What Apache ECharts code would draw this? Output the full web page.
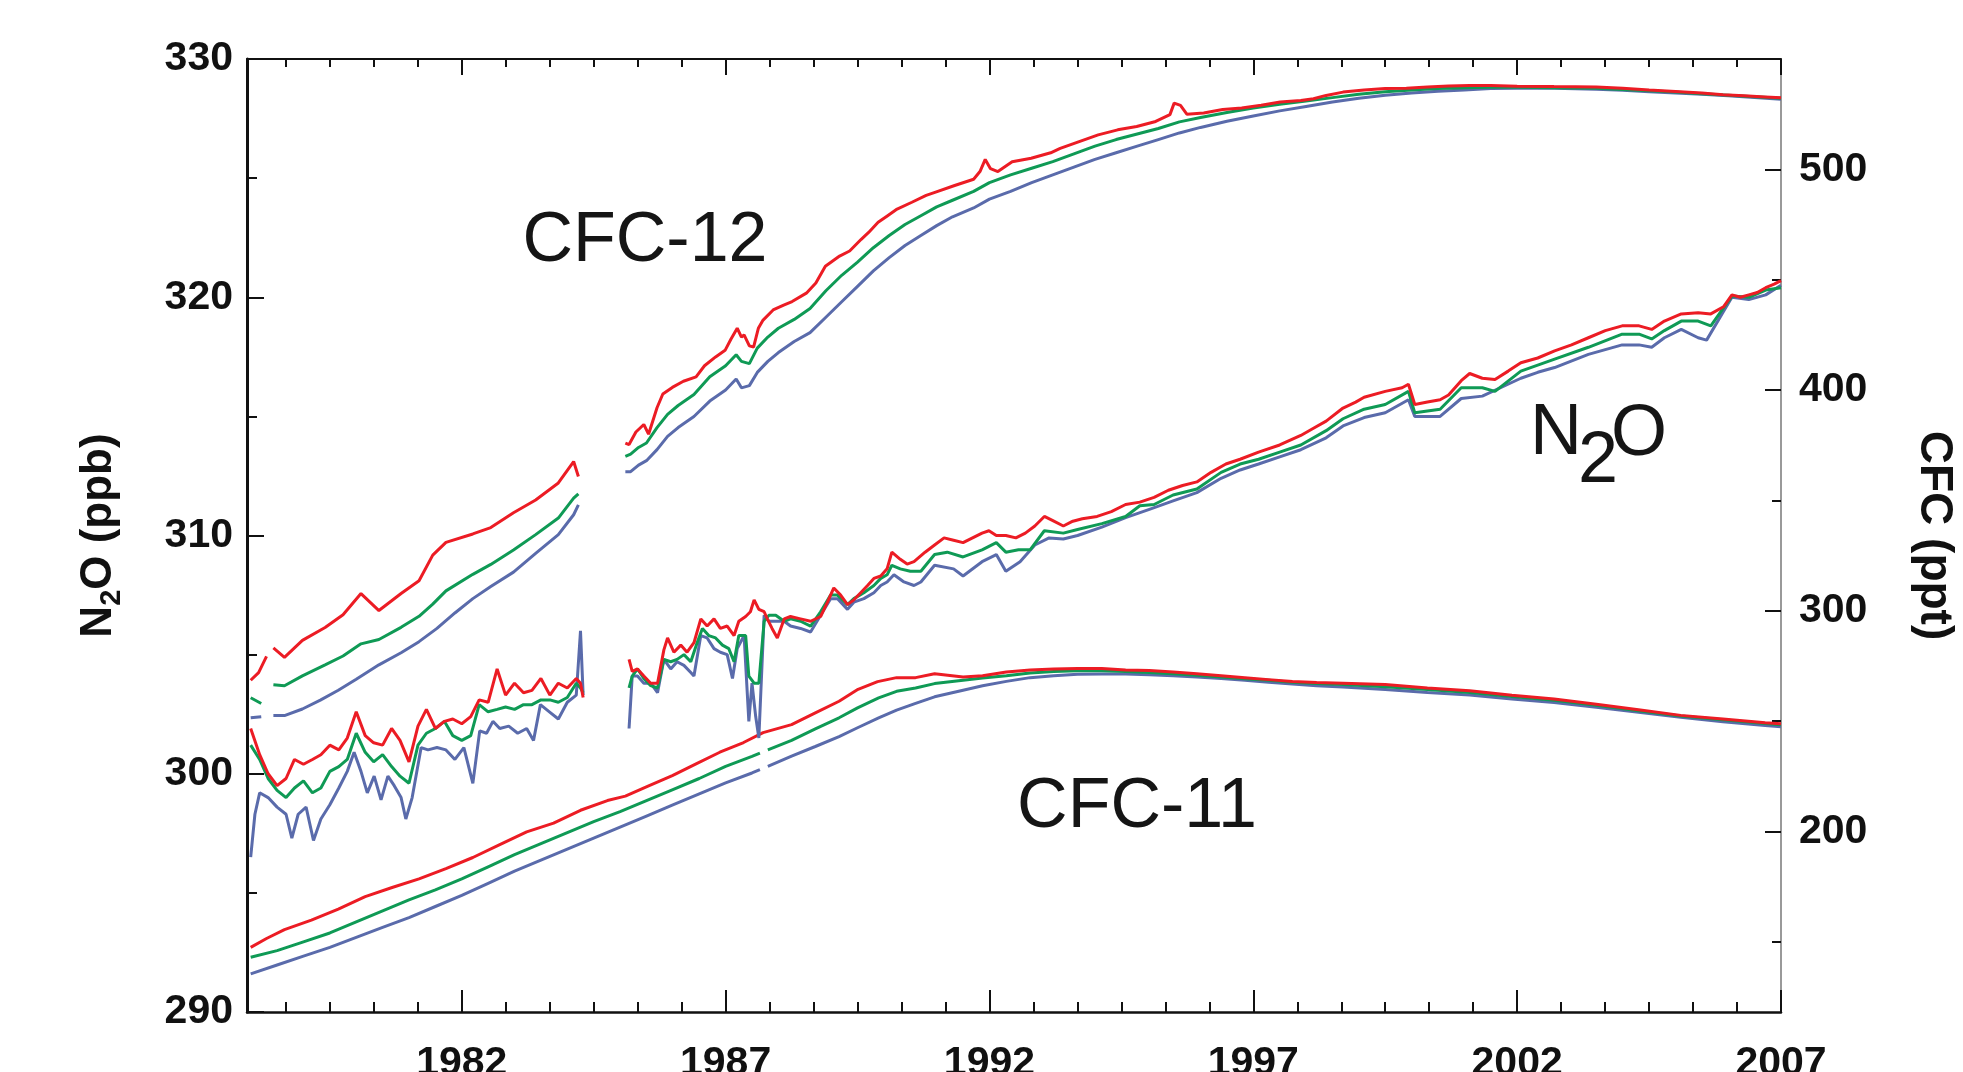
<!DOCTYPE html>
<html><head><meta charset="utf-8">
<script src="https://cdn.jsdelivr.net/npm/echarts@6/dist/echarts.min.js"></script>
<style>html,body{margin:0;padding:0;background:#fff}#c{width:1963px;height:1072px}</style>
</head><body><div id="c"></div>
<script>
// ---------- tick labels ----------
const yearMajor = [1982, 1987, 1992, 1997, 2002, 2007];
const pptMajor = [200, 300, 400, 500];
const pptMinor = [150, 250, 350, 450, 550];

// ---------- N2O (ppb, left axis) ----------
const n2oRedA = [[1978.0,301.9],[1978.17,300.8],[1978.33,300.0],[1978.5,299.5],[1978.67,299.8],[1978.83,300.6],[1979.0,300.4],[1979.17,300.6],[1979.33,300.8],[1979.5,301.2],[1979.67,301.0],[1979.83,301.5],[1980.0,302.6],[1980.17,301.6],[1980.33,301.3],[1980.5,301.2],[1980.67,301.9],[1980.83,301.4],[1981.0,300.5],[1981.17,302.0],[1981.33,302.7],[1981.5,301.9],[1981.67,302.2],[1981.83,302.3],[1982.0,302.1],[1982.17,302.4],[1982.33,303.1],[1982.5,303.0],[1982.67,304.4],[1982.83,303.3],[1983.0,303.8],[1983.17,303.4],[1983.33,303.5],[1983.5,304.0],[1983.67,303.3],[1983.83,303.8],[1984.0,303.6],[1984.17,304.0],[1984.25,303.8],[1984.3,303.2]];
const n2oGreenA = [[1978.0,301.2],[1978.17,300.6],[1978.33,299.8],[1978.5,299.3],[1978.67,299.0],[1978.83,299.4],[1979.0,299.7],[1979.17,299.2],[1979.33,299.4],[1979.5,300.1],[1979.67,300.3],[1979.83,300.6],[1980.0,301.7],[1980.17,300.9],[1980.33,300.5],[1980.5,300.8],[1980.67,300.3],[1980.83,299.9],[1981.0,299.6],[1981.17,301.2],[1981.33,301.7],[1981.5,301.9],[1981.67,302.2],[1981.83,301.6],[1982.0,301.4],[1982.17,301.6],[1982.33,302.9],[1982.5,302.6],[1982.67,302.7],[1982.83,302.8],[1983.0,302.7],[1983.17,302.9],[1983.33,302.9],[1983.5,303.1],[1983.67,303.1],[1983.83,303.0],[1984.0,303.2],[1984.17,303.8],[1984.25,303.6],[1984.3,303.4]];
const n2oBlueA = [[1978.0,296.5],[1978.08,298.3],[1978.17,299.2],[1978.33,299.0],[1978.5,298.6],[1978.67,298.3],[1978.78,297.3],[1978.9,298.3],[1979.05,298.6],[1979.19,297.2],[1979.33,298.1],[1979.5,298.7],[1979.67,299.4],[1979.83,300.1],[1979.96,300.9],[1980.09,300.1],[1980.21,299.2],[1980.34,299.9],[1980.47,298.9],[1980.6,299.9],[1980.72,299.5],[1980.85,299.0],[1980.94,298.1],[1981.06,299.0],[1981.23,301.1],[1981.36,301.0],[1981.53,301.1],[1981.7,301.0],[1981.87,300.6],[1982.04,301.1],[1982.21,299.6],[1982.34,301.8],[1982.47,301.7],[1982.59,302.2],[1982.72,301.9],[1982.89,302.0],[1983.06,301.7],[1983.23,301.9],[1983.36,301.4],[1983.49,302.9],[1983.66,302.6],[1983.83,302.3],[1984.0,303.0],[1984.17,303.3],[1984.25,306.0],[1984.3,303.3]];

const n2oRedB = [[1985.17,304.8],[1985.23,304.3],[1985.33,304.4],[1985.45,304.1],[1985.58,303.8],[1985.71,303.8],[1985.83,305.2],[1985.9,305.7],[1986.02,305.1],[1986.15,305.4],[1986.27,305.1],[1986.4,305.5],[1986.53,306.5],[1986.65,306.2],[1986.78,306.5],[1986.9,306.1],[1987.03,306.2],[1987.16,305.8],[1987.25,306.4],[1987.38,306.6],[1987.47,306.8],[1987.54,307.3],[1987.63,306.9],[1987.73,306.8],[1987.79,306.5],[1987.88,306.1],[1987.98,305.7],[1988.11,306.5],[1988.23,306.6],[1988.42,306.5],[1988.61,306.4],[1988.8,306.6],[1988.93,307.2],[1989.05,307.8],[1989.18,307.5],[1989.31,307.1],[1989.43,307.3],[1989.56,307.6],[1989.69,307.9],[1989.81,308.2],[1989.94,308.3],[1990.06,308.6],[1990.15,309.3],[1990.31,309.0],[1990.44,308.8],[1990.57,308.9],[1990.78,309.3],[1990.96,309.6],[1991.14,309.9],[1991.32,309.8],[1991.5,309.7],[1991.68,309.9],[1991.86,310.1],[1991.99,310.2],[1992.13,310.0],[1992.31,310.0],[1992.5,309.9],[1992.68,310.1],[1992.86,310.4],[1993.04,310.8],[1993.22,310.6],[1993.4,310.4],[1993.58,310.6],[1993.76,310.7],[1994.04,310.8],[1994.31,311.0],[1994.58,311.3],[1994.85,311.4],[1995.12,311.6],[1995.39,311.9],[1995.66,312.1],[1995.93,312.25],[1996.2,312.65],[1996.48,313.0],[1996.75,313.2],[1997.1,313.5],[1997.5,313.8],[1997.9,314.2],[1998.14,314.5],[1998.38,314.8],[1998.7,315.35],[1998.94,315.6],[1999.1,315.8],[1999.5,316.05],[1999.82,316.2],[1999.94,316.35],[2000.06,315.5],[2000.3,315.6],[2000.54,315.7],[2000.7,315.9],[2000.94,316.5],[2001.1,316.8],[2001.34,316.6],[2001.58,316.55],[2001.83,316.9],[2002.07,317.25],[2002.39,317.45],[2002.71,317.75],[2003.03,318.0],[2003.35,318.3],[2003.67,318.6],[2003.99,318.8],[2004.31,318.8],[2004.55,318.65],[2004.79,319.0],[2005.11,319.3],[2005.43,319.35],[2005.67,319.3],[2005.91,319.6],[2006.07,320.1],[2006.23,320.0],[2006.39,320.1],[2006.55,320.2],[2006.71,320.4],[2006.87,320.55],[2007.0,320.7]];
const n2oGreenB = [[1985.17,303.6],[1985.23,304.1],[1985.33,304.4],[1985.45,304.0],[1985.58,303.7],[1985.71,303.6],[1985.83,304.8],[1985.96,304.7],[1986.08,304.8],[1986.21,305.0],[1986.34,304.7],[1986.46,305.5],[1986.56,306.1],[1986.68,305.8],[1986.81,305.7],[1986.94,305.4],[1987.06,305.25],[1987.16,304.7],[1987.25,305.8],[1987.38,305.8],[1987.44,304.1],[1987.54,303.8],[1987.63,303.8],[1987.73,306.4],[1987.82,306.65],[1987.95,306.65],[1988.11,306.4],[1988.23,306.5],[1988.42,306.4],[1988.61,306.2],[1988.8,306.8],[1988.99,307.5],[1989.12,307.5],[1989.31,307.1],[1989.43,307.35],[1989.62,307.6],[1989.81,307.9],[1989.94,308.2],[1990.06,308.35],[1990.15,308.75],[1990.31,308.6],[1990.5,308.5],[1990.7,308.5],[1990.96,309.2],[1991.2,309.3],[1991.5,309.1],[1991.86,309.4],[1992.13,309.7],[1992.31,309.3],[1992.55,309.4],[1992.77,309.4],[1993.04,310.2],[1993.4,310.1],[1993.67,310.25],[1994.13,310.5],[1994.58,310.8],[1994.85,311.25],[1995.12,311.3],[1995.48,311.7],[1995.93,311.95],[1996.39,312.65],[1996.75,313.0],[1997.1,313.2],[1997.5,313.5],[1997.9,313.8],[1998.38,314.4],[1998.7,314.9],[1999.1,315.3],[1999.5,315.5],[1999.94,316.05],[2000.06,315.15],[2000.54,315.3],[2000.94,316.2],[2001.34,316.2],[2001.58,316.05],[2002.07,316.9],[2002.71,317.4],[2003.35,317.9],[2003.99,318.45],[2004.31,318.45],[2004.55,318.25],[2004.79,318.6],[2005.11,319.0],[2005.43,319.0],[2005.67,318.8],[2005.91,319.55],[2006.07,320.05],[2006.39,320.0],[2006.71,320.3],[2007.0,320.4]];
const n2oBlueB = [[1985.17,301.9],[1985.23,304.1],[1985.33,304.1],[1985.45,303.8],[1985.58,303.8],[1985.71,303.4],[1985.83,304.8],[1985.96,304.4],[1986.08,304.7],[1986.21,304.55],[1986.34,304.25],[1986.4,304.1],[1986.53,305.8],[1986.65,305.7],[1986.78,305.25],[1986.9,305.1],[1987.03,305.0],[1987.13,304.0],[1987.22,305.25],[1987.35,305.8],[1987.44,302.2],[1987.5,303.8],[1987.57,302.4],[1987.63,301.5],[1987.73,306.65],[1987.82,306.4],[1987.95,306.4],[1988.11,306.4],[1988.23,306.2],[1988.42,306.1],[1988.61,305.95],[1988.8,306.65],[1988.99,307.35],[1989.12,307.35],[1989.31,306.9],[1989.43,307.2],[1989.62,307.35],[1989.81,307.6],[1989.94,307.9],[1990.06,308.05],[1990.19,308.35],[1990.38,308.05],[1990.57,307.9],[1990.7,308.05],[1990.96,308.75],[1991.32,308.6],[1991.5,308.3],[1991.86,308.9],[1992.13,309.2],[1992.31,308.5],[1992.58,308.9],[1992.86,309.6],[1993.13,309.9],[1993.4,309.85],[1993.67,310.0],[1994.13,310.35],[1994.58,310.75],[1995.03,311.1],[1995.48,311.45],[1995.93,311.8],[1996.39,312.4],[1996.75,312.75],[1997.1,313.0],[1997.5,313.3],[1997.9,313.6],[1998.38,314.1],[1998.7,314.6],[1999.1,314.95],[1999.5,315.15],[1999.94,315.7],[2000.06,315.0],[2000.54,315.0],[2000.94,315.75],[2001.34,315.85],[2002.07,316.6],[2002.39,316.85],[2002.71,317.05],[2003.35,317.6],[2003.99,318.0],[2004.31,318.0],[2004.55,317.9],[2004.79,318.3],[2005.11,318.65],[2005.43,318.3],[2005.59,318.2],[2005.91,319.4],[2006.07,320.0],[2006.39,319.9],[2006.71,320.1],[2007.0,320.5]];

// ---------- CFC-12 (ppt, right axis) ----------
const cfc12RedA0 = [[1978.0,268.5],[1978.15,272.0],[1978.3,279.3]];
const cfc12RedA = [[1978.43,283.2],[1978.64,278.9],[1978.98,286.6],[1979.41,292.4],[1979.75,298.2],[1980.09,307.8],[1980.43,300.1],[1980.85,307.8],[1981.19,313.6],[1981.45,325.2],[1981.7,331.0],[1982.21,334.8],[1982.55,337.7],[1982.98,344.4],[1983.4,350.2],[1983.83,357.9],[1984.12,367.6],[1984.21,360.8]];
const cfc12GreenA0 = [[1978.0,260.6],[1978.2,258.0]];
const cfc12GreenA = [[1978.43,266.5],[1978.64,266.0],[1978.98,270.5],[1979.41,275.5],[1979.75,279.5],[1980.09,285.0],[1980.43,287.0],[1980.85,292.5],[1981.19,297.5],[1981.45,303.0],[1981.7,309.0],[1982.21,316.5],[1982.55,321.0],[1982.98,327.5],[1983.4,334.5],[1983.83,342.0],[1984.12,351.0],[1984.21,353.0]];
const cfc12BlueA0 = [[1978.0,251.5],[1978.2,252.0]];
const cfc12BlueA = [[1978.43,252.5],[1978.64,252.5],[1978.98,255.5],[1979.32,259.5],[1979.66,264.0],[1980.0,269.0],[1980.43,275.5],[1980.85,281.0],[1981.19,286.0],[1981.53,292.0],[1981.87,299.0],[1982.21,305.5],[1982.55,311.0],[1982.98,317.5],[1983.4,326.0],[1983.83,334.5],[1984.12,343.5],[1984.21,348.0]];
const cfc12RedB = [[1985.1,376],[1985.17,375.3],[1985.3,381],[1985.45,384.4],[1985.54,380],[1985.7,392],[1985.81,398.2],[1985.99,401.2],[1986.2,404],[1986.44,406],[1986.6,411],[1986.81,415],[1986.99,418],[1987.1,423],[1987.22,428],[1987.3,424],[1987.35,425],[1987.45,420],[1987.53,419.5],[1987.62,428],[1987.71,431.7],[1987.9,436.3],[1988.1,438.5],[1988.26,440.1],[1988.53,443.9],[1988.71,448.5],[1988.89,456.1],[1989.16,460.7],[1989.35,463],[1989.57,468.3],[1989.71,471.4],[1989.89,476],[1990.07,479],[1990.25,482],[1990.53,485.1],[1990.8,488.2],[1990.98,489.7],[1991.34,492.7],[1991.7,495.5],[1991.82,499],[1991.92,504.5],[1992.02,500.3],[1992.16,499],[1992.43,503.4],[1992.79,505],[1993.16,507.5],[1993.34,509.5],[1993.7,512.6],[1994.06,515.6],[1994.43,517.9],[1994.79,519.4],[1995.15,521.7],[1995.42,524.8],[1995.5,530],[1995.62,529],[1995.74,525],[1996.06,525.5],[1996.42,527.1],[1996.78,527.8],[1997.15,529],[1997.51,530.5],[1997.9,531.2],[1998.14,532],[1998.38,533.5],[1998.7,535],[1999.1,536],[1999.5,536.6],[1999.9,536.8],[2000.3,537.3],[2000.7,537.8],[2001.1,538],[2001.5,538],[2002.0,537.7],[2002.7,537.5],[2003.5,537.3],[2004.0,536.8],[2004.5,536],[2005.0,535.3],[2005.5,534.6],[2005.9,533.8],[2006.3,533.3],[2006.7,532.8],[2007.0,532.4]];
const cfc12GreenB = [[1985.1,370],[1985.2,371],[1985.35,374],[1985.5,376],[1985.7,383],[1985.9,389],[1986.1,393],[1986.4,398],[1986.7,406],[1987.0,411],[1987.2,416],[1987.3,413],[1987.45,412],[1987.6,419],[1987.8,424],[1988.0,428],[1988.3,432],[1988.6,437],[1988.9,445],[1989.2,452],[1989.5,458],[1989.8,464.5],[1990.1,470],[1990.4,475],[1990.7,479],[1991.0,483],[1991.3,486],[1991.7,490],[1992.0,494],[1992.4,497.5],[1992.8,500.5],[1993.2,503.5],[1993.6,507],[1994.0,510.5],[1994.4,513.5],[1994.8,516],[1995.2,518.5],[1995.6,521.5],[1996.0,523.5],[1996.5,525.8],[1997.0,527.8],[1997.5,529.5],[1998.0,531],[1998.5,532.5],[1999.0,534],[1999.5,535.2],[2000.0,536],[2000.5,536.6],[2001.0,537],[2001.5,537.2],[2002.0,537.2],[2002.7,537],[2003.5,536.7],[2004.0,536.2],[2004.5,535.6],[2005.0,535],[2005.5,534.3],[2006.0,533.6],[2006.5,532.9],[2007.0,532.2]];
const cfc12BlueB = [[1985.1,363],[1985.2,363],[1985.35,366],[1985.5,368],[1985.7,373],[1985.9,379],[1986.1,383],[1986.4,388],[1986.7,395],[1987.0,400],[1987.2,405],[1987.3,401],[1987.45,402],[1987.6,408],[1987.8,413],[1988.0,417],[1988.3,422],[1988.6,426],[1988.9,433],[1989.2,440],[1989.5,447],[1989.8,454],[1990.1,460],[1990.4,465.5],[1990.7,470],[1991.0,474.5],[1991.3,478.5],[1991.7,482.5],[1992.0,486.5],[1992.4,490],[1992.8,494],[1993.2,497.5],[1993.6,501],[1994.0,504.5],[1994.4,507.5],[1994.8,510.5],[1995.2,513.5],[1995.6,516.5],[1996.0,519],[1996.5,521.8],[1997.0,524.2],[1997.5,526.5],[1998.0,528.5],[1998.5,530.5],[1999.0,532.2],[1999.5,533.6],[2000.0,534.6],[2000.5,535.4],[2001.0,536],[2001.5,536.6],[2002.0,536.8],[2002.7,536.7],[2003.5,536.3],[2004.0,535.8],[2004.5,535.2],[2005.0,534.6],[2005.5,534],[2006.0,533.3],[2006.5,532.5],[2007.0,531.8]];

// ---------- CFC-11 (ppt, right axis) ----------
const cfc11Red = [[1978.0,147.5],[1978.3,151.5],[1978.64,155.5],[1979.15,159.8],[1979.66,164.8],[1980.17,170.5],[1980.68,174.6],[1981.19,178.5],[1981.7,183.2],[1982.21,188.2],[1982.72,194.0],[1983.23,199.8],[1983.74,203.8],[1984.25,209.6],[1984.76,214.0],[1985.1,216.0],[1985.53,220.5],[1985.99,225.3],[1986.44,230.6],[1986.89,235.9],[1987.34,240.3],[1987.71,244.8],[1988.25,248.4],[1988.7,253.7],[1989.15,259.0],[1989.51,264.4],[1989.88,267.9],[1990.24,269.7],[1990.6,269.7],[1990.96,271.5],[1991.5,270.0],[1991.87,270.6],[1992.32,272.3],[1992.77,273.2],[1993.22,273.6],[1993.67,273.8],[1994.13,273.8],[1994.58,273.2],[1995.03,272.9],[1995.48,272.3],[1995.93,271.5],[1996.39,270.6],[1996.84,269.7],[1997.29,268.8],[1997.74,267.9],[1998.2,267.5],[1998.7,267.2],[1999.5,266.6],[2000.3,265.0],[2001.1,263.8],[2001.9,261.7],[2002.7,260.0],[2003.5,257.6],[2004.3,255.1],[2005.1,252.6],[2005.9,251.0],[2006.7,249.3],[2007.0,248.8]];
const cfc11GreenA = [[1978.0,143],[1978.5,146],[1979.0,150],[1979.5,154],[1980.0,159],[1980.5,164],[1981.0,169],[1981.5,173.5],[1982.0,178.5],[1982.5,184],[1983.0,189.5],[1983.5,194.5],[1984.0,199.5],[1984.5,204.5],[1985.0,209],[1985.5,214],[1986.0,219],[1986.5,224],[1987.0,229.5],[1987.5,234],[1987.65,235.5]];
const cfc11GreenB = [[1987.8,237],[1988.25,241.3],[1988.7,246.5],[1989.15,251.5],[1989.5,256],[1989.9,260.5],[1990.24,263.5],[1990.6,265],[1990.96,267],[1991.5,268.5],[1991.87,269.5],[1992.32,270.6],[1992.77,271.8],[1993.22,272.5],[1993.67,272.8],[1994.13,272.8],[1994.58,272.5],[1995.03,272],[1995.48,271.5],[1995.93,270.8],[1996.39,270],[1996.84,269.2],[1997.29,268.5],[1997.74,267.6],[1998.2,267],[1998.7,266.6],[1999.5,265.6],[2000.3,264.3],[2001.1,263],[2001.9,261.2],[2002.7,259.5],[2003.5,257.2],[2004.3,254.7],[2005.1,252.3],[2005.9,250.6],[2006.7,248.9],[2007.0,248.3]];
const cfc11BlueA = [[1978.0,135.5],[1978.5,139.5],[1979.0,143.5],[1979.5,147.5],[1980.0,152],[1980.5,156.5],[1981.0,161],[1981.5,166],[1982.0,171],[1982.5,176.5],[1983.0,182],[1983.5,187],[1984.0,192],[1984.5,197],[1985.0,202],[1985.5,207],[1986.0,212],[1986.5,217],[1987.0,222],[1987.5,226.5],[1987.65,228]];
const cfc11BlueB = [[1987.8,229.5],[1988.25,234.1],[1988.7,238.5],[1989.15,243],[1989.5,247],[1989.9,251.5],[1990.24,255],[1990.6,258],[1990.96,261],[1991.5,264],[1991.87,266],[1992.32,268],[1992.77,269.7],[1993.22,270.6],[1993.67,271.2],[1994.13,271.4],[1994.58,271.3],[1995.03,271],[1995.48,270.5],[1995.93,270],[1996.39,269.3],[1996.84,268.5],[1997.29,267.6],[1997.74,266.8],[1998.2,266],[1998.7,265.5],[1999.5,264.3],[2000.3,263],[2001.1,261.8],[2001.9,260],[2002.7,258.4],[2003.5,256.3],[2004.3,254],[2005.1,251.7],[2005.9,249.7],[2006.7,248],[2007.0,247.5]];

// ---------- build ----------
function joinSegs(...segs) {
  const out = [];
  segs.forEach((s, i) => {
    if (i > 0) {
      const prev = segs[i - 1];
      out.push([(prev[prev.length - 1][0] + s[0][0]) / 2, '-']);
    }
    out.push(...s);
  });
  return out;
}
const RED = '#ec1c24', GREEN = '#0f9a55', BLUE = '#5a6bab';
const FONT = "'Liberation Sans', Arial, Helvetica, sans-serif";
const XMIN = 1977.93, XMAX = 2007;
const PPT_MIN = 118.2, PPT_MAX = 550;

const yearMinor = [];
for (let i = 0; i < yearMajor.length; i++) {
  for (let k = -5; k <= 5; k++) {
    if (k === 0) continue;
    const v = yearMajor[i] + k * 5 / 6;
    if (v > XMIN && v < XMAX && !yearMinor.some(m => Math.abs(m - v) < 1e-6)) yearMinor.push(v);
  }
}
yearMinor.sort((a, b) => a - b);

function line(name, data, color, xIdx, yIdx) {
  return { name, type: 'line', data, xAxisIndex: xIdx, yAxisIndex: yIdx, showSymbol: false, symbol: 'none',
    lineStyle: { color, width: 3 }, itemStyle: { color }, connectNulls: false, animation: false, silent: true };
}

const labelStyle = { fontFamily: FONT, fontWeight: 'bold', fontSize: 41, color: '#111' };
const tickLine = { color: '#111', width: 2 };
function xAx(gridIndex, position, opts) {
  return Object.assign({ type: 'value', gridIndex, position, min: XMIN, max: XMAX, splitLine: { show: false },
    axisLine: { show: false, onZero: false }, axisLabel: { show: false } }, opts);
}
const GRID = { left: 247, right: 182, top: 59, bottom: 60, containLabel: false, outerBoundsMode: 'none' };

const option = {
  backgroundColor: '#ffffff',
  animation: false,
  grid: [Object.assign({}, GRID), Object.assign({}, GRID)],
  xAxis: [
    xAx(0, 'bottom', {
      axisLine: { show: true, onZero: false, lineStyle: { color: '#111', width: 2.5 } },
      axisTick: { show: true, inside: true, length: 22, customValues: yearMajor, lineStyle: tickLine },
      axisLabel: Object.assign({ show: true, customValues: yearMajor, margin: 31, formatter: v => String(Math.round(v)) }, labelStyle) }),
    xAx(0, 'top', {
      axisLine: { show: true, onZero: false, lineStyle: { color: '#111', width: 2 } },
      axisTick: { show: true, inside: true, length: 16, customValues: yearMajor, lineStyle: tickLine } }),
    xAx(1, 'bottom', {
      axisTick: { show: true, inside: true, length: 10, customValues: yearMinor, lineStyle: tickLine } }),
    xAx(1, 'top', {
      axisTick: { show: true, inside: true, length: 8, customValues: yearMinor, lineStyle: tickLine } })
  ],
  yAxis: [
    { type: 'value', gridIndex: 0, position: 'left', min: 290, max: 330, interval: 10,
      splitLine: { show: false },
      axisLine: { show: true, onZero: false, lineStyle: { color: '#111', width: 3 } },
      axisTick: { show: true, inside: true, length: 17, lineStyle: tickLine },
      minorTick: { show: true, splitNumber: 2, length: 10, lineStyle: tickLine },
      axisLabel: Object.assign({ margin: 14 }, labelStyle),
      name: '{b|N}{s|2}{b|O (ppb)}', nameLocation: 'middle', nameRotate: 90, nameGap: 121,
      nameTextStyle: { fontFamily: FONT, fontWeight: 'bold', fontSize: 44, color: '#111',
        rich: { b: { fontFamily: FONT, fontWeight: 'bold', fontSize: 44, color: '#111', verticalAlign: 'top' },
                s: { fontFamily: FONT, fontWeight: 'bold', fontSize: 29, color: '#111', verticalAlign: 'top', padding: [20, 0, 0, 0] } } } },
    { type: 'value', gridIndex: 0, position: 'right', min: PPT_MIN, max: PPT_MAX,
      splitLine: { show: false },
      axisLine: { show: true, onZero: false, lineStyle: { color: '#777', width: 1.5 } },
      axisTick: { show: true, inside: true, length: 16, customValues: pptMajor, lineStyle: tickLine },
      axisLabel: Object.assign({ margin: 18, customValues: pptMajor }, labelStyle),
      name: 'CFC (ppt)', nameLocation: 'middle', nameRotate: -90, nameGap: 130,
      nameTextStyle: { fontFamily: FONT, fontWeight: 'bold', fontSize: 46, color: '#111' } },
    { type: 'value', gridIndex: 1, position: 'right', min: PPT_MIN, max: PPT_MAX,
      splitLine: { show: false }, axisLine: { show: false, onZero: false },
      axisTick: { show: true, inside: true, length: 9, customValues: pptMinor, lineStyle: tickLine },
      axisLabel: { show: false } }
  ],
  series: [
    line('CFC-12 blue', joinSegs(cfc12BlueA0, cfc12BlueA, cfc12BlueB), BLUE, 1, 1),
    line('CFC-12 green', joinSegs(cfc12GreenA0, cfc12GreenA, cfc12GreenB), GREEN, 1, 1),
    line('CFC-12 red', joinSegs(cfc12RedA0, cfc12RedA, cfc12RedB), RED, 1, 1),
    line('CFC-11 blue', joinSegs(cfc11BlueA, cfc11BlueB), BLUE, 3, 2),
    line('CFC-11 green', joinSegs(cfc11GreenA, cfc11GreenB), GREEN, 2, 2),
    line('CFC-11 red', cfc11Red, RED, 2, 2),
    line('N2O blue', joinSegs(n2oBlueA, n2oBlueB), BLUE, 0, 0),
    line('N2O green', joinSegs(n2oGreenA, n2oGreenB), GREEN, 0, 0),
    line('N2O red', joinSegs(n2oRedA, n2oRedB), RED, 0, 0)
  ],
  graphic: [
    { type: 'text', x: 645, y: 242, silent: true, style: { text: 'CFC-12', fontFamily: FONT, fontSize: 70, fill: '#151515', align: 'center', verticalAlign: 'middle' } },
    { type: 'text', x: 1137, y: 808, silent: true, style: { text: 'CFC-11', fontFamily: FONT, fontSize: 70, fill: '#151515', align: 'center', verticalAlign: 'middle' } },
    { type: 'text', x: 1556, y: 434, silent: true, style: { text: 'N', fontFamily: FONT, fontSize: 72, fill: '#151515', align: 'center', verticalAlign: 'middle' } },
    { type: 'text', x: 1598, y: 462, silent: true, style: { text: '2', fontFamily: FONT, fontSize: 72, fill: '#151515', align: 'center', verticalAlign: 'middle' } },
    { type: 'text', x: 1639, y: 435, silent: true, style: { text: 'O', fontFamily: FONT, fontSize: 72, fill: '#151515', align: 'center', verticalAlign: 'middle' } }
  ]
};

const chart = echarts.init(document.getElementById('c'), null, { renderer: 'canvas', width: 1963, height: 1072 });
chart.setOption(option);
</script>
</body></html>
